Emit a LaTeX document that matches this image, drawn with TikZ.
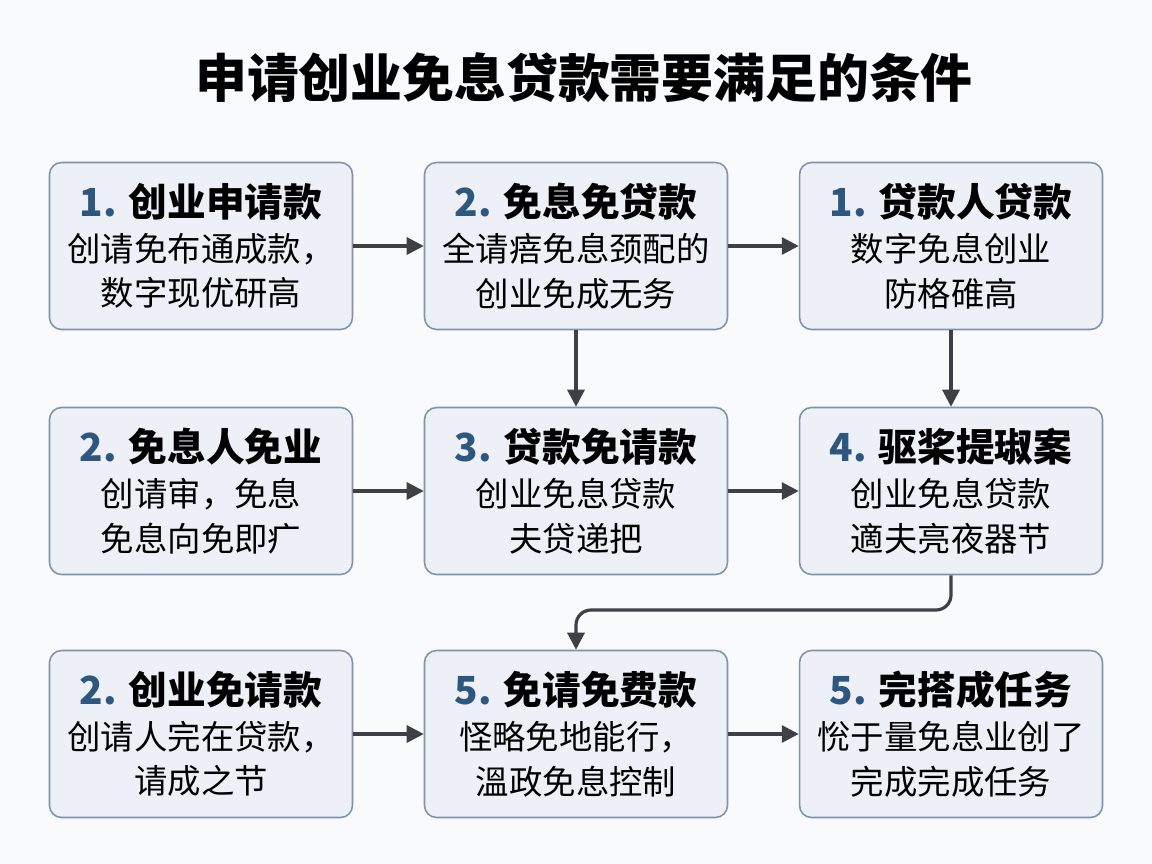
\documentclass[tikz,border=0pt]{standalone}
\usepackage{fontspec}
\usepackage{xcolor}
\usepackage{tikz}
\usetikzlibrary{%
   arrows.meta,%
   calc,%
   positioning}
\newfontfamily\cjk{Noto Sans CJK SC}
\definecolor{pagebg}{HTML}{F8FAFC}
\definecolor{boxfill}{HTML}{EDF1F7}
\definecolor{boxline}{HTML}{8192AB}
\definecolor{numblue}{HTML}{2E5780}
\definecolor{arrowgray}{HTML}{3E4045}
\newcommand{\stepno}[1]{\textcolor{numblue}{#1}}

\begin{document}
\begin{tikzpicture}
[typeBox/.style={rectangle,rounded corners=0.24cm,draw=boxline,line width=0.9pt,fill=boxfill,
   minimum width=6.06cm,minimum height=3.34cm,inner sep=0pt,align=center,
   font=\cjk\fontsize{19}{25.5}\selectfont},
 typeHead/.style={font=\cjk\bfseries\fontsize{29.5}{34}\selectfont},
 flow/.style={draw=arrowgray,line width=1.8pt,-{Triangle[length=0.34cm,width=0.34cm]}}]
\begin{scope}[x=0.02cm, y=-0.02cm]
\useasboundingbox[fill=pagebg] (0,0) rectangle (1152,864);
\node[typeHead] (title) at (584, 78) {申请创业免息贷款需要满足的条件};
% row 1
\node[typeBox] (B1) at (201, 246) {{\bfseries\fontsize{22}{25.5}\selectfont\stepno{1.} 创业申请款}\\ 创请免布通成款，\\ 数字现优研高};
\node[typeBox] (B2) at (576, 246) {{\bfseries\fontsize{22}{25.5}\selectfont\stepno{2.} 免息免贷款}\\ 全请㾦免息颈配的\\ 创业免成无务};
\node[typeBox] (B3) at (951, 246) {{\bfseries\fontsize{22}{25.5}\selectfont\stepno{1.} 贷款人贷款}\\ 数字免息创业\\ 防格碓高};
% row 2
\node[typeBox] (B4) at (201, 491) {{\bfseries\fontsize{22}{25.5}\selectfont\stepno{2.} 免息人免业}\\ 创请审，免息\\ 免息向免即疒};
\node[typeBox] (B5) at (576, 491) {{\bfseries\fontsize{22}{25.5}\selectfont\stepno{3.} 贷款免请款}\\ 创业免息贷款\\ 夫贷递把};
\node[typeBox] (B6) at (951, 491) {{\bfseries\fontsize{22}{25.5}\selectfont\stepno{4.} 驱桨提琡案}\\ 创业免息贷款\\ 適夫亮夜器节};
% row 3
\node[typeBox] (B7) at (201, 734) {{\bfseries\fontsize{22}{25.5}\selectfont\stepno{2.} 创业免请款}\\ 创请人完在贷款，\\ 请成之节};
\node[typeBox] (B8) at (576, 734) {{\bfseries\fontsize{22}{25.5}\selectfont\stepno{5.} 免请免费款}\\ 怪略免地能行，\\ 溫政免息控制};
\node[typeBox] (B9) at (951, 734) {{\bfseries\fontsize{22}{25.5}\selectfont\stepno{5.} 完搭成任务}\\ 恱于量免息业创了\\ 完成完成任务};
\coordinate (turn) at (576, 610);
\path (B1.east) edge[flow] (B2.west)
      (B2.east) edge[flow] (B3.west)
      (B4.east) edge[flow] (B5.west)
      (B5.east) edge[flow] (B6.west)
      (B7.east) edge[flow] (B8.west)
      (B8.east) edge[flow] (B9.west)
      (B2.south) edge[flow] (B5.north)
      (B3.south) edge[flow] (B6.north);
\draw[flow,rounded corners=0.3cm] (B6.south) |- (turn) -- (B8.north);
\end{scope}
\end{tikzpicture}
\end{document}
